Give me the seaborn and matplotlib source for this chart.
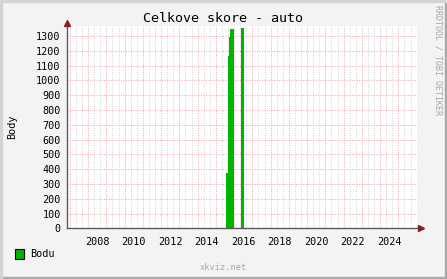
import numpy as np
import pandas as pd
import matplotlib
matplotlib.use("Agg")
import matplotlib.pyplot as plt
import matplotlib.patches as mpatches
import seaborn as sns

# ---- data (decimal years) ----
period_start = [2015.58, 2015.64, 2015.71, 2015.78, 2016.00, 2016.35]
period_end = [2015.64, 2015.71, 2015.78, 2016.00, 2016.35, 2016.53]
points = [372, 1165, 1291, 1347, 0, 1355]
year_labels = ["2008", "2010", "2012", "2014", "2016", "2018", "2020", "2022", "2024"]
y_ticks = list(range(0, 1301, 100))

title = "Celkove skore - auto"
ylabel = "Body"
legend_label = "Bodu"
footer = "xkviz.net"
side_text = "RRDTOOL / TOBI OETIKER"

sns.set_theme(style="white")
plt.rcParams["font.family"] = ["DejaVu Sans Mono", "DejaVu Sans"]

W, H = 447, 279
fig = plt.figure(figsize=(W / 100, H / 100), dpi=100)
fig.patch.set_facecolor("#f3f3f3")

# 3D-like frame
fig.add_artist(mpatches.Rectangle((0, 0), 1, 2 / H, transform=fig.transFigure, color="#a8a8a8", zorder=0))
fig.add_artist(mpatches.Rectangle((1 - 2 / W, 0), 2 / W, 1, transform=fig.transFigure, color="#a8a8a8", zorder=0))
fig.add_artist(mpatches.Rectangle((0, 1 - 2 / H), 1, 2 / H, transform=fig.transFigure, color="#d4d4d4", zorder=0))
fig.add_artist(mpatches.Rectangle((0, 0), 2 / W, 1, transform=fig.transFigure, color="#d4d4d4", zorder=0))

x0, x1 = 67, 417
ytop, ybot = 26, 228.3
ax = fig.add_axes([x0 / W, (H - ybot) / H, (x1 - x0) / W, (ybot - ytop) / H])
ax.set_facecolor("white")

df = pd.DataFrame({"start": period_start, "end": period_end, "points": points})
df["mid"] = (df["start"] + df["end"]) / 2
edges = list(df["start"]) + [df["end"].iloc[-1]]

sns.histplot(data=df, x="mid", weights="points", bins=edges, stat="count",
             element="bars", fill=True, color="#00b400", alpha=1.0,
             linewidth=0, ax=ax, zorder=3)

ax.set_xlim(2006.84, 2026.02)
ax.set_ylim(0, 1368)

# grid
years = np.arange(2007, 2026)
ax.set_xticks(years)
ax.set_xticks([y + f for y in years for f in (1 / 3, 2 / 3)], minor=True)
ax.set_xticklabels([])
ax.set_yticks(y_ticks)
ax.set_yticklabels([str(v) for v in y_ticks], fontsize=7.3, color="black")
ax.grid(False)
ax.grid(True, which="minor", axis="x", color="#d2d2d2", linestyle=(0, (1, 1.5)), linewidth=0.7, zorder=1)
ax.grid(True, which="major", axis="both", color="#eba3a3", linestyle=(0, (1, 1.5)), linewidth=0.7, zorder=1)
ax.tick_params(axis="y", which="major", length=2.5, width=0.7, color="#606060", pad=2)
ax.tick_params(axis="x", which="major", length=2.5, width=0.7, color="#606060", pad=1)
ax.tick_params(axis="x", which="minor", length=0)

# x labels centred mid-year
for lab in year_labels:
    ax.text(int(lab) + 0.5, -0.045, lab, transform=ax.get_xaxis_transform(),
            ha="center", va="top", fontsize=7.3, color="black")

for s in ["top", "right"]:
    ax.spines[s].set_visible(False)
for s in ["left", "bottom"]:
    ax.spines[s].set_color("#5a5a5a")
    ax.spines[s].set_linewidth(1.0)
    ax.spines[s].set_zorder(4)

# arrows
ax.plot([1.0 + 4 / (x1 - x0)], [0], marker=">", markersize=5, color="#8a1e1e",
        transform=ax.transAxes, clip_on=False, zorder=5)
ax.plot([1.0 + 2 / (x1 - x0), 1.0 + 3 / (x1 - x0)], [0, 0], color="#5a5a5a", lw=1.0,
        transform=ax.transAxes, clip_on=False, zorder=4)
ax.plot([0], [1.0 + 3 / (ybot - ytop)], marker="^", markersize=5, color="#8a1e1e",
        transform=ax.transAxes, clip_on=False, zorder=5)

ax.set_xlabel("")
ax.set_ylabel("")

fig.text(223 / W, 1 - 19 / H, title, ha="center", va="center", fontsize=9.6, color="black")
fig.text(12 / W, 1 - 127 / H, ylabel, ha="center", va="center", rotation=90, fontsize=7.3, color="black")
fig.text(438 / W, 1 - 5 / H, side_text, ha="center", va="top", rotation=270, fontsize=6.0, color="#a8a8a8")
fig.text(223 / W, 1 - 268 / H, footer, ha="center", va="center", fontsize=6.2, color="#a8a8a8")

fig.add_artist(mpatches.Rectangle((15 / W, 1 - 258.5 / H), 9 / W, 9.5 / H, transform=fig.transFigure,
                                  facecolor="#00b400", edgecolor="black", linewidth=0.8))
fig.text(30 / W, 1 - 254 / H, legend_label, ha="left", va="center", fontsize=7.3, color="black")

fig.savefig("out.png", dpi=100, facecolor=fig.get_facecolor())
